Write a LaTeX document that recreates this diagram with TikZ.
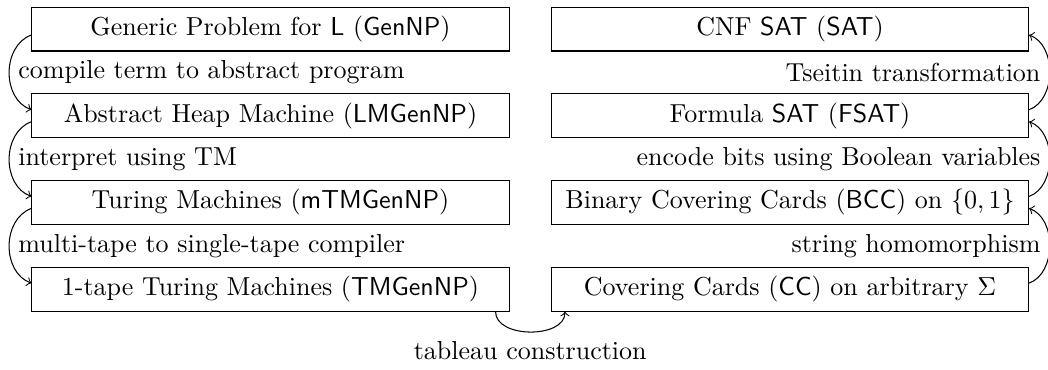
\documentclass[tikz,border=0pt]{standalone}
\begin{document}
\begin{tikzpicture}[x=0.3846pt,y=0.3846pt,
  box/.style={draw, minimum width=183.5pt, minimum height=16.9pt, inner sep=3.333pt},
  link/.style={->}]
\useasboundingbox (0,0) rectangle (1048,-369);
\node[box] (l1) at (270.5,-29) {Generic Problem for \textsf{L} (\textsf{GenNP})};
\node[box] (l2) at (270.5,-115.7) {Abstract Heap Machine (\textsf{LMGenNP})};
\node[box] (l3) at (270.5,-202.4) {Turing Machines (\textsf{mTMGenNP})};
\node[box] (l4) at (270.5,-289.1) {1-tape Turing Machines (\textsf{TMGenNP})};
\node[box] (r1) at (790,-29) {CNF \textsf{SAT} (\textsf{SAT})};
\node[box] (r2) at (790,-115.7) {Formula \textsf{SAT} (\textsf{FSAT})};
\node[box] (r3) at (790,-202.4) {Binary Covering Cards (\textsf{BCC}) on $\{0,1\}$};
\node[box] (r4) at (790,-289.1) {Covering Cards (\textsf{CC}) on arbitrary $\Sigma$};
\draw[link] ([yshift=-2.3pt]l1.west) to[out=200,in=160,looseness=1.08]
  node[midway,right] {compile term to abstract program} ([yshift=2.3pt]l2.west);
\draw[link] ([yshift=-2.3pt]l2.west) to[out=200,in=160,looseness=1.08]
  node[midway,right] {interpret using TM} ([yshift=2.3pt]l3.west);
\draw[link] ([yshift=-2.3pt]l3.west) to[out=200,in=160,looseness=1.08]
  node[midway,right] {multi-tape to single-tape compiler} ([yshift=2.3pt]l4.west);
\draw[link] ([xshift=-5.4pt]l4.south east) to[out=-90,in=-90,looseness=1]
  node[midway,below] {tableau construction} ([xshift=5.4pt]r4.south west);
\draw[link] ([yshift=2.3pt]r4.east) to[out=20,in=-20,looseness=1.0]
  node[midway,left] {string homomorphism} ([yshift=-2.3pt]r3.east);
\draw[link] ([yshift=2.3pt]r3.east) to[out=20,in=-20,looseness=1.0]
  node[midway,left] {encode bits using Boolean variables} ([yshift=-2.3pt]r2.east);
\draw[link] ([yshift=2.3pt]r2.east) to[out=20,in=-20,looseness=1.0]
  node[midway,left] {Tseitin transformation} ([yshift=-2.3pt]r1.east);
\end{tikzpicture}
\end{document}
